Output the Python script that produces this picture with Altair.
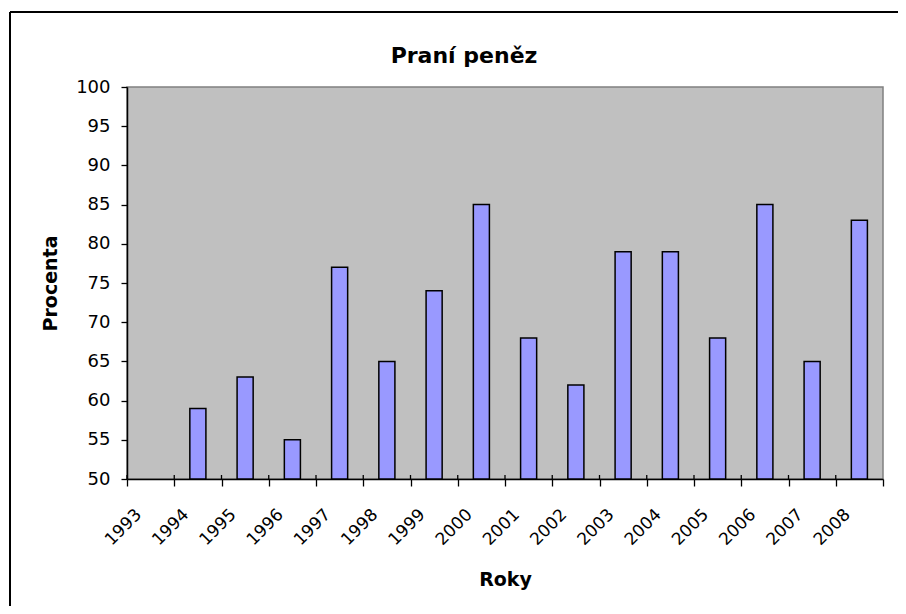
import altair as alt
import pandas as pd

years = ["1993", "1994", "1995", "1996", "1997", "1998", "1999", "2000",
         "2001", "2002", "2003", "2004", "2005", "2006", "2007", "2008"]
values = [None, 59, 63, 55, 77, 65, 74, 85, 68, 62, 79, 79, 68, 85, 65, 83]
y_ticks = [50, 55, 60, 65, 70, 75, 80, 85, 90, 95, 100]
chart_title = "Praní peněz"
x_title = "Roky"
y_title = "Procenta"

df = pd.DataFrame({"Rok": years, "Procenta": values}).dropna()
cats = pd.DataFrame({"Rok": years})

FONT = "DejaVu Sans"

x_enc = alt.X(
    "Rok:N",
    sort=years,
    scale=alt.Scale(domain=years, paddingInner=0, paddingOuter=0),
    axis=alt.Axis(
        title=x_title,
        labelAngle=-45,
        labelAlign="right",
        labelBaseline="top",
        labelOffset=-18,
        labelPadding=20,
        tickBand="extent",
        tickSize=7,
        tickColor="black",
        tickWidth=1.3,
        domainColor="black",
        domainWidth=1.5,
        labelFont=FONT,
        labelFontSize=17,
        labelColor="black",
        titleFont=FONT,
        titleFontSize=19,
        titleFontWeight="bold",
        titleColor="black",
        titleY=100,
        titleBaseline="middle",
        titleAlign="center",
    ),
)

y_enc = alt.Y(
    "Procenta:Q",
    scale=alt.Scale(domain=[50, 100], nice=False, zero=False),
    axis=alt.Axis(
        title=y_title,
        values=y_ticks,
        grid=False,
        tickSize=6,
        tickColor="black",
        tickWidth=1.3,
        domainColor="black",
        domainWidth=1.5,
        labelPadding=11,
        labelFont=FONT,
        labelFontSize=18,
        labelColor="black",
        titleFont=FONT,
        titleFontSize=19,
        titleFontWeight="bold",
        titleColor="black",
        titleAngle=270,
        titleX=-77,
        titleY=196,
        titleBaseline="middle",
        titleAlign="center",
    ),
)

bars = alt.Chart(df).mark_bar(
    color="#9999FF",
    stroke="black",
    strokeWidth=1.5,
    width=alt.RelativeBandSize(0.34),
).encode(x=x_enc, y=y_enc, y2=alt.datum(50))

# inner part of the category ticks (Excel ticks cross the axis)
inner_ticks = alt.Chart(cats).mark_rule(color="black", strokeWidth=1.3).encode(
    x=alt.X("Rok:N", sort=years, bandPosition=0),
    y=alt.value(388),
    y2=alt.value(392),
)

one = pd.DataFrame({"a": [0]})

title_mark = alt.Chart(one).mark_text(
    text=chart_title,
    font=FONT,
    fontSize=22,
    fontWeight="bold",
    color="black",
    align="center",
    baseline="alphabetic",
).encode(x=alt.value(337), y=alt.value(-24))

frame_top = alt.Chart(one).mark_rule(color="black", strokeWidth=2).encode(
    x=alt.value(-117), x2=alt.value(800), y=alt.value(-75)
)
frame_left = alt.Chart(one).mark_rule(color="black", strokeWidth=2).encode(
    x=alt.value(-117), y=alt.value(-75), y2=alt.value(560)
)

chart = alt.layer(bars, inner_ticks, title_mark, frame_top, frame_left).properties(
    width=756,
    height=392,
    autosize=alt.AutoSizeParams(type="none"),
    padding={"left": 119, "top": 79, "right": 15, "bottom": 127},
    background="white",
).configure_view(fill="#C0C0C0", stroke="#808080", strokeWidth=1.5)

chart.save("out.html", embed_options={"renderer": "svg", "actions": False})
